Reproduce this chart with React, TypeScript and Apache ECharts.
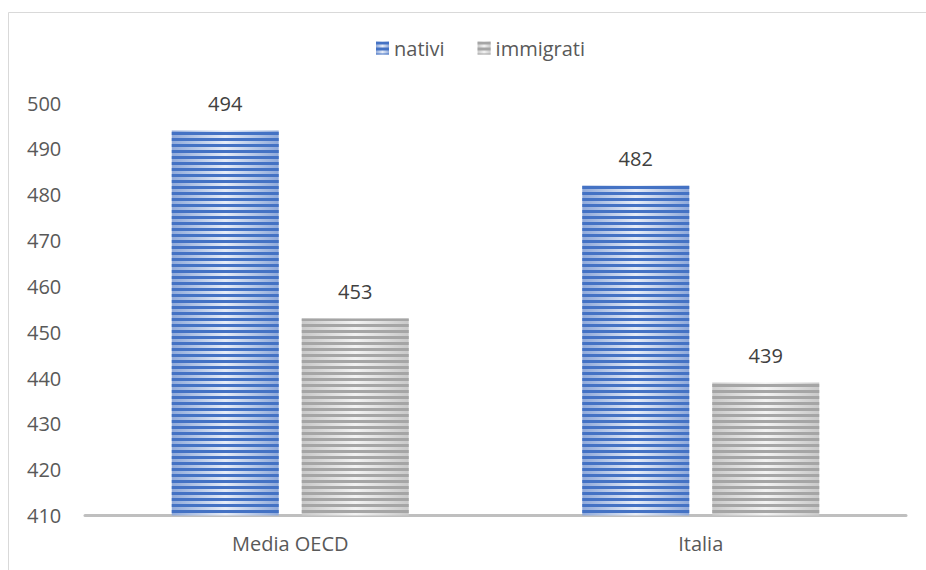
import React, { useEffect, useRef } from "react";
import * as echarts from "echarts";

const categories = ["Media OECD", "Italia"];
const seriesNames = ["nativi", "immigrati"];
const nativi = [494, 482];
const immigrati = [453, 439];
const yMin = 410;
const yMax = 500;
const yInterval = 10;

const FONT = "'Open Sans', 'Liberation Sans', sans-serif";

function grad(edge: string, center: string) {
  return new echarts.graphic.LinearGradient(0, 0, 1, 0, [
    { offset: 0, color: edge },
    { offset: 0.5, color: center },
    { offset: 1, color: edge },
  ]);
}

function stripes(color: string) {
  return {
    symbol: "rect",
    symbolSize: 1,
    color,
    dashArrayX: [1, 0],
    dashArrayY: [2.5, 3],
    rotation: 0,
  };
}

export default function App() {
  const ref = useRef<HTMLDivElement>(null);
  useEffect(() => {
    if (!ref.current) return;
    const chart = echarts.init(ref.current, null, { renderer: "svg" });
    const label = {
      show: true,
      position: "top",
      distance: 17,
      fontSize: 20,
      color: "#404040",
      fontFamily: FONT,
    };
    chart.setOption({
      animation: false,
      textStyle: { fontFamily: FONT },
      graphic: [
        {
          type: "rect",
          shape: { x: 8.5, y: 12.5, width: 1000, height: 1000 },
          style: { fill: "none", stroke: "#D9D9D9", lineWidth: 1 },
          silent: true,
        },
      ],
      legend: {
        top: 33,
        left: 371,
        icon: "rect",
        itemWidth: 13,
        itemHeight: 13,
        itemGap: 33,
        textStyle: { fontSize: 20, color: "#595959", fontFamily: FONT },
        data: seriesNames,
      },
      grid: { left: 85, right: 20, top: 103, bottom: 54.5, containLabel: false },
      xAxis: {
        type: "category",
        data: categories,
        axisLine: { lineStyle: { color: "#BFBFBF", width: 3 } },
        axisTick: { show: false },
        axisLabel: { fontSize: 20, color: "#595959", margin: 18, fontFamily: FONT },
      },
      yAxis: {
        type: "value",
        min: yMin,
        max: yMax,
        interval: yInterval,
        axisLine: { show: false },
        axisTick: { show: false },
        splitLine: { show: false },
        axisLabel: { fontSize: 20, color: "#595959", align: "left", margin: 58, fontFamily: FONT },
      },
      series: [
        {
          name: seriesNames[0],
          type: "bar",
          data: nativi,
          barWidth: 107,
          barGap: "21.5%",
          itemStyle: { color: grad("#8FA9DA", "#E6ECF7"), decal: stripes("#4472C4") },
          label,
        },
        {
          name: seriesNames[1],
          type: "bar",
          data: immigrati,
          barWidth: 107,
          barGap: "21.5%",
          itemStyle: { color: grad("#C9C9C9", "#F2F2F2"), decal: stripes("#A5A5A5") },
          label,
        },
      ],
    });
    return () => chart.dispose();
  }, []);
  return (
    <div
      ref={ref}
      style={{ position: "fixed", left: 0, top: 0, width: 926, height: 570, background: "#fff" }}
    />
  );
}
